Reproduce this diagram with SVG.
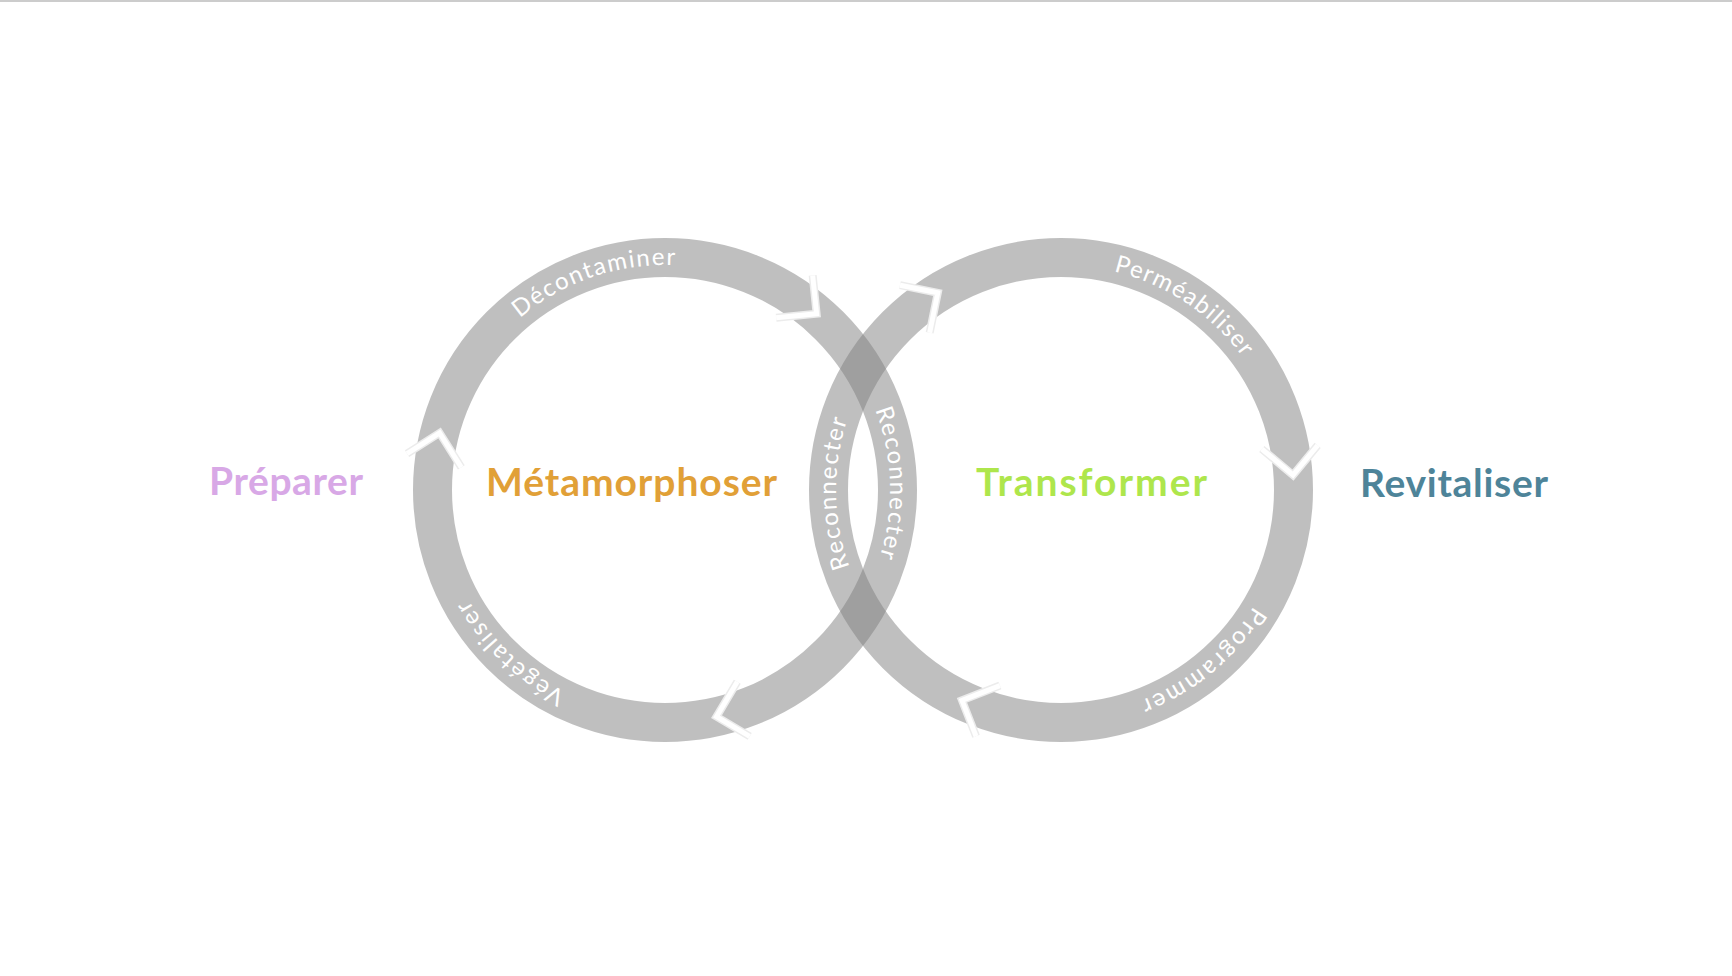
<svg xmlns="http://www.w3.org/2000/svg" xmlns:xlink="http://www.w3.org/1999/xlink" width="1732" height="976" viewBox="0 0 1732 976">
  <style>
    .ring { fill: none; stroke: #808080; stroke-opacity: 0.5; stroke-width: 39; }
    .chev-soft { fill: none; stroke: #ececec; stroke-width: 8; stroke-linejoin: miter; }
    .chev { fill: none; stroke: #ffffff; stroke-width: 5; stroke-linejoin: miter; }
    .ringtxt { font-family: Lato, "Open Sans", "Liberation Sans", sans-serif; font-size: 24px; fill: #ffffff; }
    .label { font-family: Lato, "Open Sans", "Liberation Sans", sans-serif; font-size: 39px; font-weight: 700; }
  </style>
  <defs>
    <polyline id="chevL" points="924,462 897.5,490 868,462"/>
    <polyline id="chevR" points="1320,462 1293.5,490 1264,462"/>
    <path id="pathL" d="M 890,490 A 225 225 0 1 1 440,490 A 225 225 0 1 1 890,490 A 225 225 0 1 1 440,490 A 225 225 0 1 1 890,490"/>
    <path id="pathR" d="M 1286,490 A 225 225 0 1 1 836,490 A 225 225 0 1 1 1286,490 A 225 225 0 1 1 836,490 A 225 225 0 1 1 1286,490"/>
  </defs>
  <rect x="0" y="0" width="1732" height="2" fill="#cccccc"/>
  <g id="connectors">
    <g id="cycle-left">
      <circle class="ring" cx="665" cy="490" r="232.5"/>
      <use href="#chevL" class="chev-soft" transform="rotate(-49.3 665 490)"/>
      <use href="#chevL" class="chev-soft" transform="rotate(194.2 665 490)"/>
      <use href="#chevL" class="chev-soft" transform="rotate(77.2 665 490)"/>
      <use href="#chevL" class="chev" transform="rotate(-49.3 665 490)"/>
      <use href="#chevL" class="chev" transform="rotate(194.2 665 490)"/>
      <use href="#chevL" class="chev" transform="rotate(77.2 665 490)"/>
    </g>
    <g id="cycle-right">
      <circle class="ring" cx="1061" cy="490" r="232.5"/>
      <use href="#chevR" class="chev-soft" transform="rotate(238 1061 490)"/>
      <use href="#chevR" class="chev-soft" transform="rotate(-3.7 1061 490)"/>
      <use href="#chevR" class="chev-soft" transform="rotate(115.2 1061 490)"/>
      <use href="#chevR" class="chev" transform="rotate(238 1061 490)"/>
      <use href="#chevR" class="chev" transform="rotate(-3.7 1061 490)"/>
      <use href="#chevR" class="chev" transform="rotate(115.2 1061 490)"/>
    </g>
    <g id="ring-labels">
      <text class="ringtxt" text-anchor="middle"><textPath href="#pathL" startOffset="986" textLength="168" lengthAdjust="spacing">Décontaminer</textPath></text>
      <text class="ringtxt" text-anchor="middle"><textPath href="#pathL" startOffset="524" textLength="136" lengthAdjust="spacing">Végétaliser</textPath></text>
      <text class="ringtxt" text-anchor="middle"><textPath href="#pathL" startOffset="1406" textLength="150" lengthAdjust="spacing">Reconnecter</textPath></text>
      <text class="ringtxt" text-anchor="middle"><textPath href="#pathR" startOffset="1192" textLength="158" lengthAdjust="spacing">Perméabiliser</textPath></text>
      <text class="ringtxt" text-anchor="middle"><textPath href="#pathR" startOffset="197" textLength="150" lengthAdjust="spacing">Programmer</textPath></text>
      <text class="ringtxt" text-anchor="middle"><textPath href="#pathR" startOffset="703" textLength="150" lengthAdjust="spacing">Reconnecter</textPath></text>
    </g>
  </g>
  <g id="node-preparer">
    <text class="label" x="209" y="495" fill="#d8a8e6" textLength="154" lengthAdjust="spacing">Préparer</text>
  </g>
  <g id="node-metamorphoser">
    <text class="label" x="486" y="496" fill="#e1a037" textLength="291" lengthAdjust="spacing">Métamorphoser</text>
  </g>
  <g id="node-transformer">
    <text class="label" x="976" y="496" fill="#aee64c" textLength="231" lengthAdjust="spacing">Transformer</text>
  </g>
  <g id="node-revitaliser">
    <text class="label" x="1360" y="497" fill="#4e8499" textLength="188" lengthAdjust="spacing">Revitaliser</text>
  </g>
</svg>
